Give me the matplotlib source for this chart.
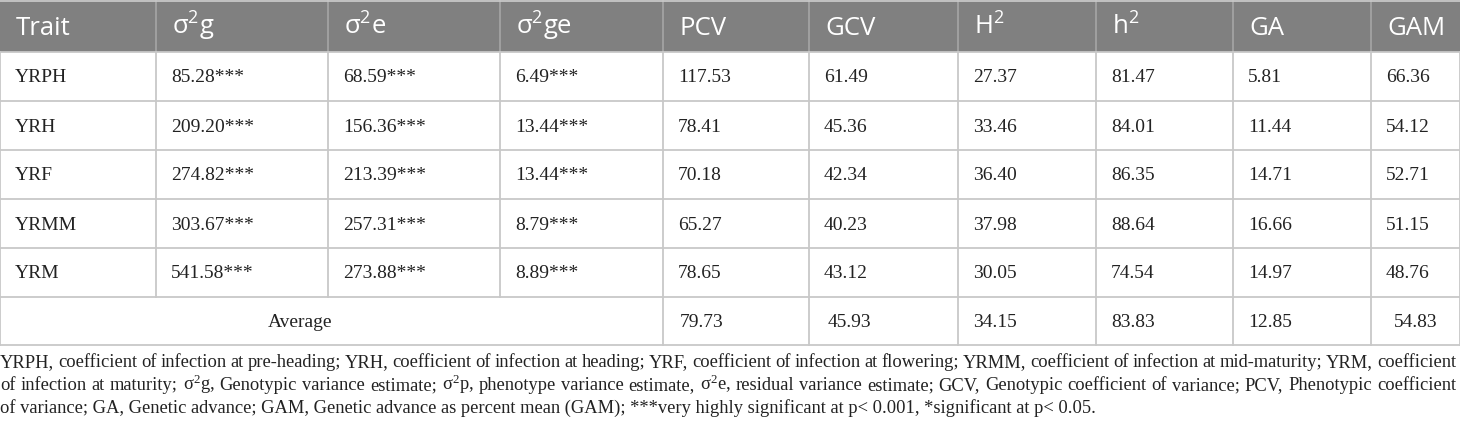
import matplotlib
matplotlib.use("Agg")
import matplotlib.pyplot as plt

# column headers and table values
headers = [r"Trait", r"$\mathregular{σ^2g}$", r"$\mathregular{σ^2e}$", r"$\mathregular{σ^2ge}$",
           "PCV", "GCV", r"$\mathregular{H^2}$", r"$\mathregular{h^2}$", "GA", "GAM"]
traits = ["YRPH", "YRH", "YRF", "YRMM", "YRM"]
sigma_g = ["85.28***", "209.20***", "274.82***", "303.67***", "541.58***"]
sigma_e = ["68.59***", "156.36***", "213.39***", "257.31***", "273.88***"]
sigma_ge = ["6.49***", "13.44***", "13.44***", "8.79***", "8.89***"]
pcv = ["117.53", "78.41", "70.18", "65.27", "78.65"]
gcv = ["61.49", "45.36", "42.34", "40.23", "43.12"]
H2 = ["27.37", "33.46", "36.40", "37.98", "30.05"]
h2 = ["81.47", "84.01", "86.35", "88.64", "74.54"]
ga = ["5.81", "11.44", "14.71", "16.66", "14.97"]
gam = ["66.36", "54.12", "52.71", "51.15", "48.76"]
average = ["79.73", "45.93", "34.15", "83.83", "12.85", "54.83"]

footnote = [
    "YRPH, coefficient of infection at pre-heading; YRH, coefficient of infection at heading; YRF, coefficient of infection at flowering; YRMM, coefficient of infection at mid-maturity; YRM, coefficient",
    r"of infection at maturity; $\mathregular{σ^2}$g, Genotypic variance estimate; $\mathregular{σ^2}$p, phenotype variance estimate, $\mathregular{σ^2}$e, residual variance estimate; GCV, Genotypic coefficient of variance; PCV, Phenotypic coefficient",
    "of variance; GA, Genetic advance; GAM, Genetic advance as percent mean (GAM); ***very highly significant at p< 0.001, *significant at p< 0.05.",
]

columns = [traits, sigma_g, sigma_e, sigma_ge, pcv, gcv, H2, h2, ga, gam]

# layout in pixels
W, H = 1460, 426
col_x = [0, 156, 328, 500, 663, 809, 958, 1096, 1233, 1371, 1460]
row_y = [0, 52, 101, 150, 199, 248, 297, 345]
pad = 15
avg_shift = [2, 4, 0, 0, 0, 8]
serif = "Liberation Serif"
ink = "#222222"

fig = plt.figure(figsize=(W / 100, H / 100), dpi=100)
ax = fig.add_axes([0, 0, 1, 1])
ax.set_xlim(0, W)
ax.set_ylim(H, 0)
ax.axis("off")

grid = "#c8c8c8"
# header background
ax.add_patch(plt.Rectangle((0, 0), W, row_y[1], color="#808080", lw=0))
for x in col_x[1:-1]:
    ax.plot([x, x], [0, row_y[1]], color="#a6a6a6", lw=1.2)
for j, h in enumerate(headers):
    ax.text(col_x[j] + 16, 35, h, color="white", fontsize=18.5,
            family="Open Sans", va="baseline", ha="left")

# body rows
for i in range(len(traits)):
    yb = (row_y[i + 1] + row_y[i + 2]) / 2 + 6
    for j, col in enumerate(columns):
        ax.text(col_x[j] + pad, yb, col[i], fontsize=14, family=serif,
                va="baseline", ha="left", color=ink)

# average row
yb = (row_y[6] + row_y[7]) / 2 + 6
ax.text(300, yb, "Average", fontsize=14, family=serif, va="baseline",
        ha="center", color=ink)
for k, v in enumerate(average):
    ax.text(col_x[k + 4] + pad + avg_shift[k], yb, v, fontsize=14, family=serif,
            va="baseline", ha="left", color=ink)

# grid lines
for y in row_y[1:]:
    ax.plot([0, W], [y, y], color=grid, lw=1.3)
for j, x in enumerate(col_x):
    if 0 < j < 4:
        ax.plot([x, x], [row_y[1], row_y[6]], color=grid, lw=1.3)
    else:
        ax.plot([x, x], [row_y[1], row_y[7]], color=grid, lw=1.3)
ax.plot([0, W], [0.5, 0.5], color=grid, lw=1.3)

# footnote, first two lines justified to the full width
renderer = fig.canvas.get_renderer()
fs = 13.3
for k, line in enumerate(footnote):
    yb = 367 + 23 * k
    if k == len(footnote) - 1:
        ax.text(0, yb, line, fontsize=fs, family=serif, va="baseline", ha="left", color=ink)
        continue
    words = line.split(" ")
    arts = [ax.text(0, yb, w, fontsize=fs, family=serif, va="baseline", ha="left", color=ink)
            for w in words]
    widths = [a.get_window_extent(renderer).width for a in arts]
    gap = (W - 4 - sum(widths)) / (len(words) - 1)
    x = 0
    for a, w in zip(arts, widths):
        a.set_x(x)
        x += w + gap

fig.savefig("out.png", dpi=100)
